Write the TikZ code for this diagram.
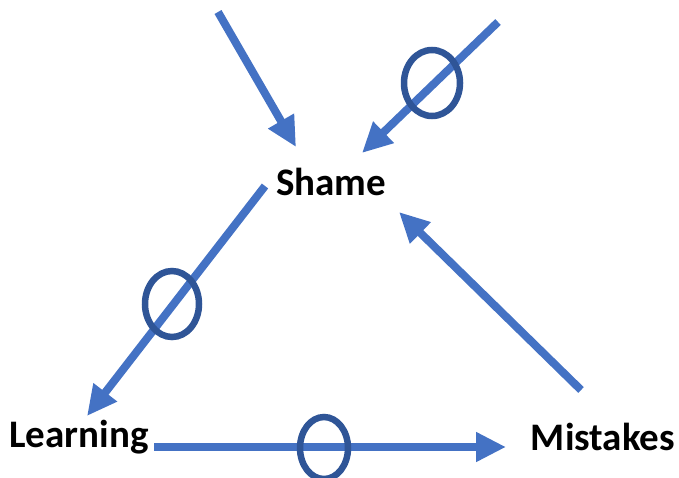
\documentclass[tikz,border=0pt]{standalone}
\usepackage{fontspec}
\setmainfont{Carlito}
\usetikzlibrary{arrows.meta,shapes.geometric}
\definecolor{arrowblue}{HTML}{4472C4}
\definecolor{ringblue}{HTML}{2F5597}
\tikzset{>={Triangle[length=30pt,width=28pt]}}
\tikzset{
  word/.style={font=\fontsize{39}{42}\selectfont\bfseries, inner sep=0pt},
  link/.style={->, draw=arrowblue, fill=arrowblue, line width=8pt},
  ring/.style={ellipse, draw=ringblue, line width=6.5pt, inner sep=0pt}
}

\begin{document}
\begin{tikzpicture}[x=1pt, y=-1pt]
            \useasboundingbox (0,0) rectangle (679,477);
            \node[word] (shame) at (331,182) {Shame};
            \node[word] (learning) at (79,437) {Learning};
            \node[word] (mistakes) at (603,437) {Mistakes};
            \coordinate (in1) at (218,12); % outside causes
            \coordinate (in2) at (498,22);
            \coordinate (sh1) at (296,147);
            \coordinate (sh2) at (362,153);
            \coordinate (sh3) at (265,186);
            \coordinate (sh4) at (399,212);
            \coordinate (le1) at (87,416);
            \coordinate (le2) at (154,447);
            \coordinate (mi1) at (506,447);
            \coordinate (mi2) at (581,390);
            \draw[link] (in1) -- (sh1);
            \draw[link] (in2) -- (sh2);
            \draw[link] (sh3) -- (le1);
            \draw[link] (le2) -- (mi1);
            \draw[link] (mi2) -- (sh4);
            \node[ring, minimum width=56pt, minimum height=66pt] (r1) at (432,83) {};
            \node[ring, minimum width=54pt, minimum height=66pt] (r2) at (172,304) {};
            \node[ring, minimum width=48pt, minimum height=62pt] (r3) at (324,448) {};
\end{tikzpicture}
\end{document}
